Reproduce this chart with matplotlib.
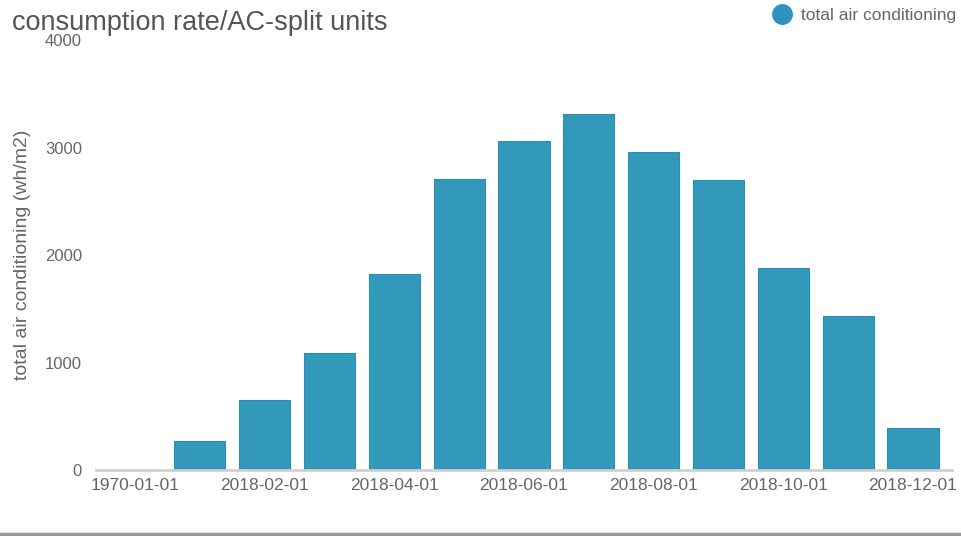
import numpy as np
import matplotlib.pyplot as plt
from matplotlib.lines import Line2D

plt.rcParams['font.family'] = ['Liberation Sans', 'DejaVu Sans']

# monthly consumption (wh/m2), first bucket is the empty 1970 date
months = ["1970-01-01", "2018-01-01", "2018-02-01", "2018-03-01", "2018-04-01",
          "2018-05-01", "2018-06-01", "2018-07-01", "2018-08-01", "2018-09-01",
          "2018-10-01", "2018-11-01", "2018-12-01"]
total_ac = [0, 270, 651, 1088, 1823, 2707, 3060, 3312, 2958, 2698, 1879, 1433, 391]
yticks = [0, 1000, 2000, 3000, 4000]

bar_color = "#3399bb"
text_color = "#666666"

fig = plt.figure(figsize=(9.61, 5.36), dpi=100)
ax = fig.add_axes([0.0999, 0.123, 0.8907, 0.802])

x = np.arange(len(months))
ax.bar(x, total_ac, width=0.79, color=bar_color, edgecolor="#2b8fb2", linewidth=0.8, zorder=2)

ax.set_xlim(-0.6, len(months) - 0.4)
ax.set_ylim(0, 4000)
ax.set_xticks(x[::2])
ax.set_xticklabels(months[::2], fontsize=12.5, color=text_color)
ax.set_yticks(yticks)
ax.set_yticklabels([str(v) for v in yticks], fontsize=12, color=text_color)
ax.tick_params(axis="both", length=0)
ax.tick_params(axis="x", pad=6)
ax.tick_params(axis="y", pad=10)

for s in ["top", "right", "left"]:
    ax.spines[s].set_visible(False)
ax.spines["bottom"].set_color("#d0d0d0")
ax.spines["bottom"].set_linewidth(2)

ax.set_ylabel("total air conditioning (wh/m2)", fontsize=14, color=text_color, labelpad=10)

fig.text(0.012, 0.958, "consumption rate/AC-split units", fontsize=19.5,
         color="#555555", va="center", ha="left")

handle = Line2D([], [], marker="o", linestyle="none", markersize=14,
                markerfacecolor="#2a93c0", markeredgecolor="#2a93c0")
fig.legend([handle], ["total air conditioning"], loc="upper right",
           bbox_to_anchor=(1.011, 1.015), frameon=False, fontsize=12.5,
           handletextpad=0.1, labelcolor=text_color)

# grey rule along the bottom of the card
fig.add_artist(Line2D([0, 1], [0.004, 0.004], color="#999999", linewidth=2.5))

fig.savefig("out.png", dpi=100)
